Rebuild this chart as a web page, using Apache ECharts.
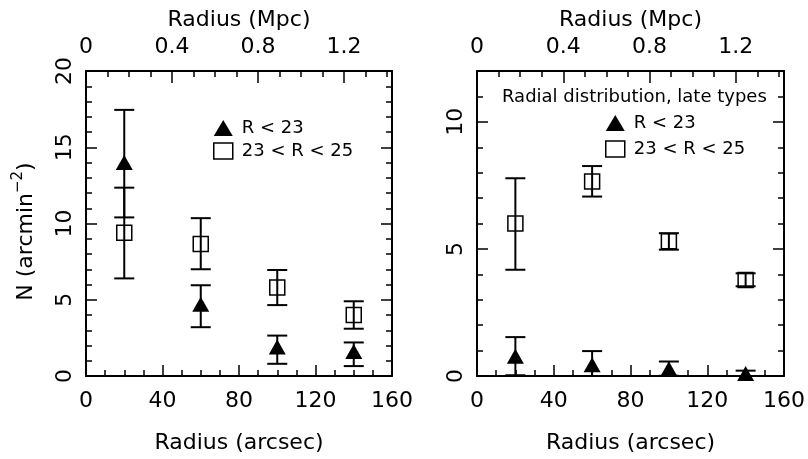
<!DOCTYPE html>
<html><head><meta charset="utf-8">
<script src="https://cdn.jsdelivr.net/npm/echarts@6/dist/echarts.min.js"></script>
<style>html,body{margin:0;padding:0;background:#fff}#c{width:808px;height:459px}</style>
</head><body><div id="c"></div>
<script>
// ---- data ----
const radiusArcsec = [20, 60, 100, 140];
const arcsecPerMpc = 112.4;
const brightName = 'R < 23';
const faintName = '23 < R < 25';
// Left panel (all types)
const leftBrightN  = [14.0, 4.7, 1.9, 1.6];
const leftBrightLo = [10.4, 3.2, 0.8, 0.65];
const leftBrightHi = [17.45, 5.95, 2.65, 2.2];
const leftFaintN   = [9.4, 8.65, 5.8, 4.0];
const leftFaintLo  = [6.4, 7.0, 4.65, 3.1];
const leftFaintHi  = [12.35, 10.35, 6.95, 4.9];
// Right panel (late types)
const rightBrightN  = [0.78, 0.44, 0.29, 0.1];
const rightBrightLo = [0.03, -0.1, 0.01, -0.01];
const rightBrightHi = [1.53, 0.98, 0.57, 0.21];
const rightFaintN   = [6.0, 7.65, 5.3, 3.78];
const rightFaintLo  = [4.18, 7.06, 4.97, 3.53];
const rightFaintHi  = [7.78, 8.26, 5.62, 4.04];
const xTickStep = 40, mpcTickStep = 0.4;
const leftYMax = 20, rightYMax = 12, yTickStep = 5;
const rightTitle = 'Radial distribution, late types';

// ---- styling helpers ----
const FONT = 'DejaVu Sans';
const line = {show: true, onZero: false, lineStyle: {color: '#000', width: 2}};
const noLine = {show: false, onZero: false};
function tick(len, show) { return {show: show !== false, inside: true, length: len, lineStyle: {color: '#000', width: 1.5}}; }
const minor = (n) => ({show: true, splitNumber: n, length: 6, lineStyle: {color: '#000', width: 1.5}});
const lbl = (extra) => Object.assign({color: '#000', fontSize: 22, fontFamily: FONT}, extra || {});
const mpcMax = 160 / arcsecPerMpc;

function xAxesFor(g) {
  return [
    {gridIndex: g, type: 'value', position: 'bottom', min: 0, max: 160, interval: xTickStep,
     axisLine: line, axisTick: tick(11), minorTick: minor(4), splitLine: {show: false},
     axisLabel: lbl({margin: 14}),
     name: 'Radius (arcsec)', nameLocation: 'middle', nameGap: 56,
     nameTextStyle: {color: '#000', fontSize: 22, fontFamily: FONT}},
    {gridIndex: g, type: 'value', position: 'top', min: 0, max: mpcMax, interval: 0.1,
     axisLine: line, axisTick: tick(6), splitLine: {show: false},
     axisLabel: lbl({margin: 13, showMaxLabel: false,
       formatter: v => { const k = v / mpcTickStep; return Math.abs(k - Math.round(k)) < 1e-6 ? (Math.round(v*10)/10).toString() : ''; }}),
     name: 'Radius (Mpc)', nameLocation: 'middle', nameGap: 37,
     nameTextStyle: {color: '#000', fontSize: 22, fontFamily: FONT}},
    {gridIndex: g, type: 'value', position: 'top', min: 0, max: mpcMax, interval: mpcTickStep,
     axisLine: noLine, axisTick: tick(12), splitLine: {show: false}, axisLabel: {show: false}}
  ];
}

const legendCommon = {orient: 'vertical', itemWidth: 19, itemHeight: 16, itemGap: 5,
  textStyle: {color: '#000', fontSize: 18, fontFamily: FONT, padding: [0, 0, 0, 4]},
  data: [{name: brightName, icon: 'triangle', itemStyle: {color: '#000', opacity: 1}},
         {name: faintName, icon: 'rect', itemStyle: {color: 'rgba(0,0,0,0)', borderColor: '#000', borderWidth: 1.5}}]};

const yName = '{a|N (arcmin}{s|−2}{a|)}';
const option = {
  animation: false,
  textStyle: {fontFamily: FONT},
  grid: [
    {left: 86, top: 71, width: 306, height: 306},
    {left: 477, top: 71, width: 307, height: 306}
  ],
  title: {text: rightTitle, left: 497, top: 83,
    textStyle: {color: '#000', fontSize: 18, fontWeight: 'normal', fontFamily: FONT}},
  legend: [
    Object.assign({left: 208, top: 114}, legendCommon),
    Object.assign({left: 600, top: 109}, legendCommon, {itemGap: 8})
  ],
  xAxis: [...xAxesFor(0), ...xAxesFor(1)],
  yAxis: [
    {gridIndex: 0, type: 'value', position: 'left', min: 0, max: leftYMax, interval: yTickStep,
     axisLine: line, axisTick: tick(11), minorTick: minor(5), splitLine: {show: false},
     axisLabel: lbl({rotate: 90, margin: 10}),
     name: yName, nameLocation: 'middle', nameRotate: 90, nameGap: 45,
     nameTextStyle: {color: '#000', fontFamily: FONT, padding: [0, 16, 0, 0],
       rich: {a: {fontSize: 22, lineHeight: 30, fontFamily: FONT, color: '#000'},
              s: {fontSize: 15, lineHeight: 14, verticalAlign: 'top', fontFamily: FONT, color: '#000'}}}},
    {gridIndex: 0, type: 'value', position: 'right', min: 0, max: leftYMax, interval: yTickStep,
     axisLine: line, axisTick: tick(11), minorTick: minor(5), splitLine: {show: false}, axisLabel: {show: false}},
    {gridIndex: 1, type: 'value', position: 'left', min: 0, max: rightYMax, interval: yTickStep,
     axisLine: line, axisTick: tick(11), splitLine: {show: false},
     axisLabel: lbl({rotate: 90, margin: 10, showMaxLabel: false})},
    {gridIndex: 1, type: 'value', position: 'left', min: 0, max: rightYMax, interval: 1,
     axisLine: noLine, axisTick: tick(6), splitLine: {show: false}, axisLabel: {show: false}},
    {gridIndex: 1, type: 'value', position: 'right', min: 0, max: rightYMax, interval: yTickStep,
     axisLine: line, axisTick: tick(11), splitLine: {show: false}, axisLabel: {show: false}},
    {gridIndex: 1, type: 'value', position: 'right', min: 0, max: rightYMax, interval: 1,
     axisLine: noLine, axisTick: tick(6), splitLine: {show: false}, axisLabel: {show: false}}
  ],
  series: []
};

function errRender(params, api) {
  const x = api.value(0), lo = api.value(1), hi = api.value(2);
  const pLo = api.coord([x, lo]), pHi = api.coord([x, hi]);
  const hw = 10;
  const st = {stroke: '#000', lineWidth: 2};
  return {type: 'group', children: [
    {type: 'line', shape: {x1: pLo[0], y1: pLo[1], x2: pHi[0], y2: pHi[1]}, style: st},
    {type: 'line', shape: {x1: pLo[0] - hw, y1: pLo[1], x2: pLo[0] + hw, y2: pLo[1]}, style: st},
    {type: 'line', shape: {x1: pHi[0] - hw, y1: pHi[1], x2: pHi[0] + hw, y2: pHi[1]}, style: st}
  ]};
}
function addPanel(xi, yi, bN, bLo, bHi, fN, fLo, fHi) {
  const err = (lo, hi, name) => ({type: 'custom', name: name, xAxisIndex: xi, yAxisIndex: yi, clip: true,
    renderItem: errRender, encode: {x: 0, y: [1, 2]},
    data: radiusArcsec.map((x, i) => [x, lo[i], hi[i]]), silent: true});
  option.series.push(err(fLo, fHi, faintName));
  option.series.push(err(bLo, bHi, brightName));
  option.series.push({type: 'scatter', name: faintName, xAxisIndex: xi, yAxisIndex: yi, symbol: 'rect', symbolSize: 15,
    itemStyle: {color: 'rgba(0,0,0,0)', borderColor: '#000', borderWidth: 1.5, opacity: 1},
    data: radiusArcsec.map((x, i) => [x, fN[i]])});
  option.series.push({type: 'scatter', name: brightName, xAxisIndex: xi, yAxisIndex: yi, symbol: 'triangle', symbolSize: [17, 15],
    itemStyle: {color: '#000', opacity: 1}, clip: false,
    data: radiusArcsec.map((x, i) => [x, bN[i]])});
}
addPanel(0, 0, leftBrightN, leftBrightLo, leftBrightHi, leftFaintN, leftFaintLo, leftFaintHi);
addPanel(3, 2, rightBrightN, rightBrightLo, rightBrightHi, rightFaintN, rightFaintLo, rightFaintHi);

const chart = echarts.init(document.getElementById('c'), null, {renderer: 'canvas'});
chart.setOption(option);
</script></body></html>
